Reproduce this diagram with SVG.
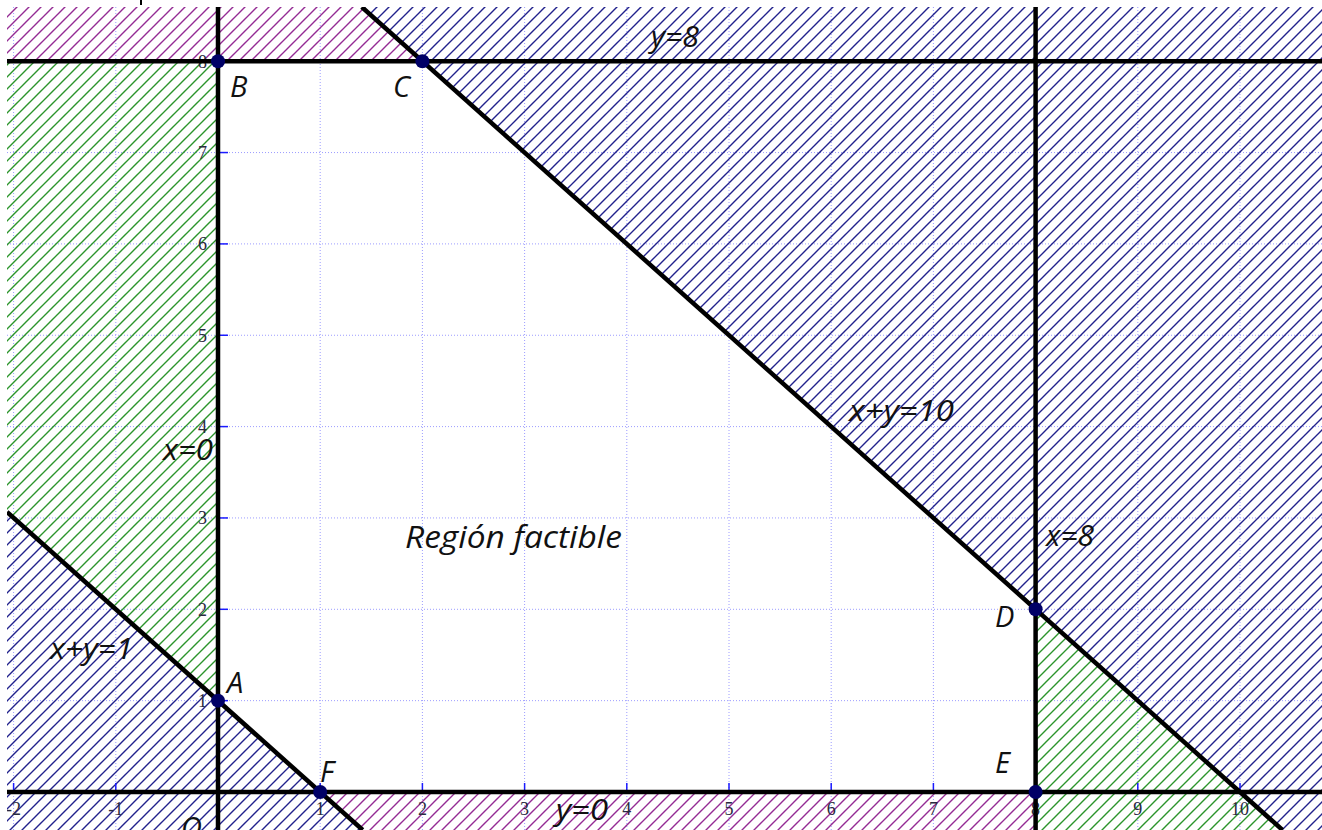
<svg xmlns="http://www.w3.org/2000/svg" width="1322" height="830" viewBox="0 0 1322 830">
<defs>
<clipPath id="plot"><rect x="7" y="7" width="1315" height="823"/></clipPath>
<pattern id="hBlue" patternUnits="userSpaceOnUse" width="12" height="12"><path d="M-3,3 L3,-3 M0,12 L12,0 M9,15 L15,9" stroke="#22228c" stroke-width="1.4"/></pattern>
<pattern id="hPurple" patternUnits="userSpaceOnUse" width="12" height="12"><path d="M-3,3 L3,-3 M0,12 L12,0 M9,15 L15,9" stroke="#942c94" stroke-width="1.4"/></pattern>
<pattern id="hGreen" patternUnits="userSpaceOnUse" width="12" height="12"><path d="M-3,3 L3,-3 M0,12 L12,0 M9,15 L15,9" stroke="#2c942c" stroke-width="1.4"/></pattern>
</defs>
<style>
.grid line{stroke:#9c9cff;stroke-width:1;stroke-dasharray:1,2}
.tick line{stroke:#1a1aff;stroke-width:1.5}
.num{font-family:"Liberation Serif",serif;font-size:18px;fill:#2a2a40}
.lbl{font-family:"Open Sans","Liberation Sans",sans-serif;font-style:italic;font-size:29px;fill:#111}
.eq{font-family:"Open Sans","Liberation Sans",sans-serif;font-style:italic;font-size:30px;fill:#111}
.ln{stroke:#000;stroke-width:4.5;fill:none}
.pt{fill:#000066}
</style>
<rect width="1322" height="830" fill="#fff"/>
<rect x="140" y="0" width="2" height="5" fill="#000"/>
<g clip-path="url(#plot)">
<g id="grid" class="grid">
<line x1="13.6" y1="7" x2="13.6" y2="830"/><line x1="115.8" y1="7" x2="115.8" y2="830"/><line x1="320.2" y1="7" x2="320.2" y2="830"/><line x1="422.4" y1="7" x2="422.4" y2="830"/><line x1="524.6" y1="7" x2="524.6" y2="830"/><line x1="626.8" y1="7" x2="626.8" y2="830"/><line x1="729" y1="7" x2="729" y2="830"/><line x1="831.2" y1="7" x2="831.2" y2="830"/><line x1="933.4" y1="7" x2="933.4" y2="830"/><line x1="1137.8" y1="7" x2="1137.8" y2="830"/><line x1="1240" y1="7" x2="1240" y2="830"/>
<line x1="7" y1="700.65" x2="1322" y2="700.65"/><line x1="7" y1="609.3" x2="1322" y2="609.3"/><line x1="7" y1="517.95" x2="1322" y2="517.95"/><line x1="7" y1="426.6" x2="1322" y2="426.6"/><line x1="7" y1="335.25" x2="1322" y2="335.25"/><line x1="7" y1="243.9" x2="1322" y2="243.9"/><line x1="7" y1="152.55" x2="1322" y2="152.55"/>
</g>
<g id="hatches">
<polygon fill="url(#hBlue)" points="361.8,7 1322,7 1322,830 1282.5,830"/>
<polygon fill="url(#hBlue)" points="7,512.05 362.7,830 7,830"/>
<polygon fill="url(#hGreen)" points="7,61.2 218,61.2 218,700.65 7,512.05"/>
<polygon fill="url(#hPurple)" points="7,7 361.8,7 422.4,61.2 7,61.2"/>
<polygon fill="url(#hPurple)" points="320.2,792 1035.6,792 1035.6,830 362.7,830"/>
<polygon fill="url(#hGreen)" points="1035.6,609.3 1282.5,830 1035.6,830"/>
</g>
<g id="ticks" class="tick">
<line x1="13.6" y1="783" x2="13.6" y2="792"/><line x1="115.8" y1="783" x2="115.8" y2="792"/><line x1="320.2" y1="783" x2="320.2" y2="792"/><line x1="422.4" y1="783" x2="422.4" y2="792"/><line x1="524.6" y1="783" x2="524.6" y2="792"/><line x1="626.8" y1="783" x2="626.8" y2="792"/><line x1="729" y1="783" x2="729" y2="792"/><line x1="831.2" y1="783" x2="831.2" y2="792"/><line x1="933.4" y1="783" x2="933.4" y2="792"/><line x1="1035.6" y1="783" x2="1035.6" y2="792"/><line x1="1137.8" y1="783" x2="1137.8" y2="792"/><line x1="1240" y1="783" x2="1240" y2="792"/>
<line x1="218" y1="700.65" x2="228" y2="700.65"/><line x1="218" y1="609.3" x2="228" y2="609.3"/><line x1="218" y1="517.95" x2="228" y2="517.95"/><line x1="218" y1="426.6" x2="228" y2="426.6"/><line x1="218" y1="335.25" x2="228" y2="335.25"/><line x1="218" y1="243.9" x2="228" y2="243.9"/><line x1="218" y1="152.55" x2="228" y2="152.55"/><line x1="218" y1="61.2" x2="228" y2="61.2"/>
</g>
<g id="tick-labels" class="num">
<g text-anchor="middle">
<text x="13.6" y="815">-2</text><text x="115.8" y="815">-1</text><text x="320.2" y="815">1</text><text x="422.4" y="815">2</text><text x="524.6" y="815">3</text><text x="626.8" y="815">4</text><text x="729" y="815">5</text><text x="831.2" y="815">6</text><text x="933.4" y="815">7</text><text x="1035.6" y="815">8</text><text x="1137.8" y="815">9</text><text x="1240" y="815">10</text>
</g>
<g text-anchor="end">
<text x="207" y="707">1</text><text x="207" y="615.5">2</text><text x="207" y="524">3</text><text x="207" y="433">4</text><text x="207" y="341.5">5</text><text x="207" y="250">6</text><text x="207" y="159">7</text><text x="207" y="67.5">8</text>
</g>
</g>
<g id="connectors">
<line class="ln" x1="7" y1="61.2" x2="1322" y2="61.2"/>
<line class="ln" x1="7" y1="792" x2="1322" y2="792"/>
<line class="ln" x1="218" y1="7" x2="218" y2="830"/>
<line class="ln" x1="1035.6" y1="7" x2="1035.6" y2="830"/>
<line class="ln" x1="361.8" y1="7" x2="1282.5" y2="830"/>
<line class="ln" x1="7" y1="512.05" x2="362.7" y2="830"/>
</g>
<g id="line-labels" class="eq">
<text x="651" y="47" textLength="48" lengthAdjust="spacingAndGlyphs">y=8</text>
<text x="849" y="421" textLength="105" lengthAdjust="spacingAndGlyphs">x+y=10</text>
<text x="1046" y="546" textLength="48" lengthAdjust="spacingAndGlyphs">x=8</text>
<text x="163" y="460" textLength="50" lengthAdjust="spacingAndGlyphs">x=0</text>
<text x="50" y="659" textLength="83" lengthAdjust="spacingAndGlyphs">x+y=1</text>
<text x="556" y="820" textLength="52" lengthAdjust="spacingAndGlyphs">y=0</text>
<text x="405" y="548" font-size="31" textLength="217" lengthAdjust="spacingAndGlyphs">Región factible</text>
</g>
<g id="node-A"><circle class="pt" cx="218" cy="700.65" r="7"/><text class="lbl" x="227" y="693">A</text></g>
<g id="node-B"><circle class="pt" cx="218" cy="61.2" r="7"/><text class="lbl" x="230" y="97">B</text></g>
<g id="node-C"><circle class="pt" cx="422.4" cy="61.2" r="7"/><text class="lbl" x="393" y="97">C</text></g>
<g id="node-D"><circle class="pt" cx="1035.6" cy="609.3" r="7"/><text class="lbl" x="995" y="627">D</text></g>
<g id="node-E"><circle class="pt" cx="1035.6" cy="792" r="7"/><text class="lbl" x="995" y="773">E</text></g>
<g id="node-F"><circle class="pt" cx="320.2" cy="792" r="7"/><text class="lbl" x="320" y="782">F</text></g>
<g id="node-O"><text class="lbl" x="181" y="838">O</text></g>
</g>
</svg>
